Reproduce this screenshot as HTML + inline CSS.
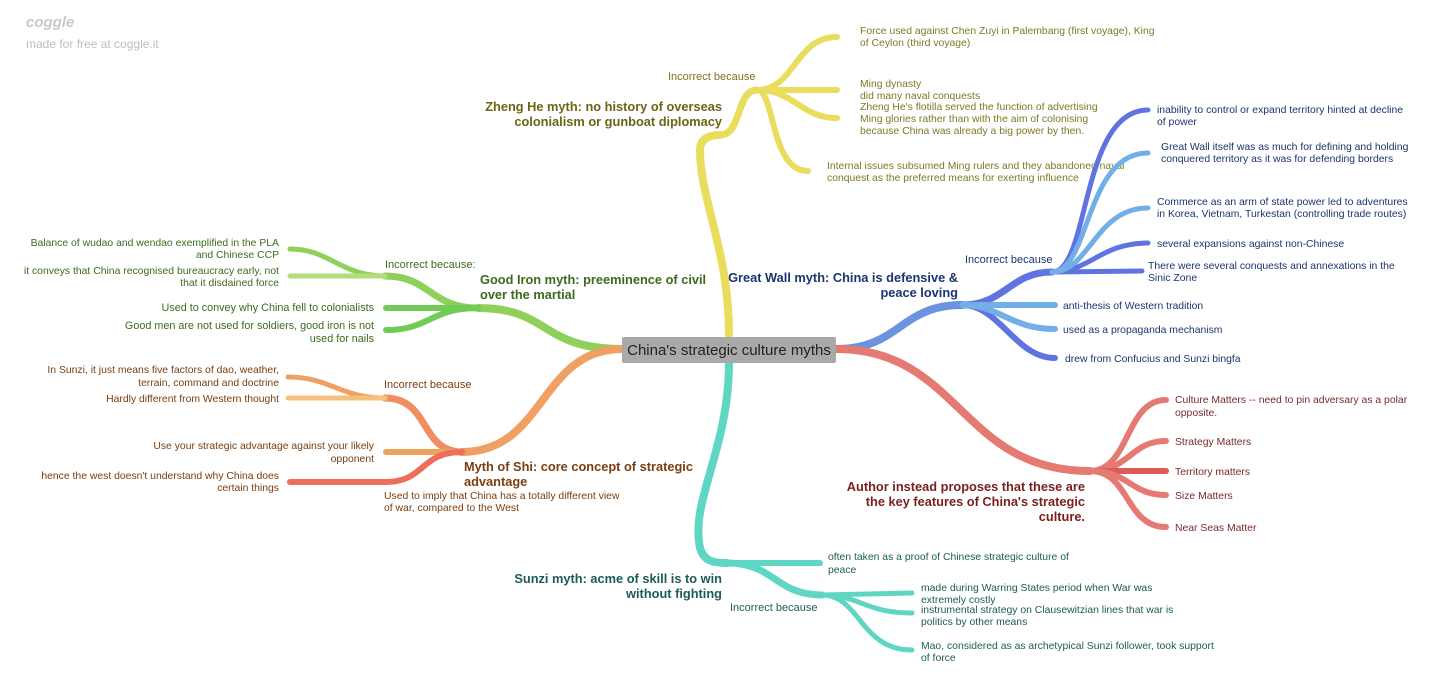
<!DOCTYPE html>
<html><head><meta charset="utf-8"><style>
html,body{margin:0;padding:0;background:#fff;}
svg{display:block;font-family:"Liberation Sans",sans-serif;}
.b{font-weight:bold;font-size:12.8px;}
.s{font-size:10.4px;}
.m{font-size:11px;}
path{fill:none;stroke-linecap:round;}
</style></head><body>
<svg width="1456" height="694" viewBox="0 0 1456 694">
<text x="26" y="27" font-size="15" font-style="italic" font-weight="bold" fill="#c8c8c8">coggle</text>
<text x="26" y="48" font-size="12" fill="#bdbdbd">made for free at coggle.it</text>

<!-- yellow -->
<g stroke="#e8dd5c">
<path stroke-width="8" d="M729,335 C729,250 700,200 700,150 C700,138 710,135 720,135"/>
<path stroke-width="7" d="M720,135 C742,135 736,90 757,90"/>
<path stroke-width="6" d="M757,90 C795,90 795,37 837,37"/>
<path stroke-width="6" d="M757,90 L837,90"/>
<path stroke-width="6" d="M757,90 C795,90 800,118 837,118"/>
<path stroke-width="6" d="M757,90 C775,90 770,171 808,171"/>
</g>
<text class="b" fill="#6b6616" text-anchor="end"><tspan x="722" y="111">Zheng He myth: no history of overseas</tspan><tspan x="722" y="126">colonialism or gunboat diplomacy</tspan></text>
<text class="m" x="668" y="80" fill="#7a7420">Incorrect because</text>
<g class="s" fill="#7d7a25">
<text x="860" y="34">Force used against Chen Zuyi in Palembang (first voyage), King</text>
<text x="860" y="46">of Ceylon (third voyage)</text>
<text x="860" y="87">Ming dynasty</text>
<text x="860" y="99">did many naval conquests</text>
<text x="860" y="110">Zheng He's flotilla served the function of advertising</text>
<text x="860" y="122">Ming glories rather than with the aim of colonising</text>
<text x="860" y="134">because China was already a big power by then.</text>
<text x="827" y="169">Internal issues subsumed Ming rulers and they abandoned naval</text>
<text x="827" y="181">conquest as the preferred means for exerting influence</text>
</g>

<!-- blue -->
<path stroke="#6b93e0" stroke-width="8" d="M836,349 C900,349 900,305 962,305"/>
<g stroke="#5f74e0">
<path stroke-width="7" d="M962,305 C1005,305 1010,272 1052,272"/>
<path stroke-width="6" d="M962,305 C1000,305 1015,358 1055,358"/>
<path stroke-width="5" d="M1052,272 C1090,272 1080,110 1148,110"/>
<path stroke-width="5" d="M1052,272 C1090,272 1100,243 1148,243"/>
<path stroke-width="5" d="M1052,272 L1142,271"/>
</g>
<g stroke="#72aee8">
<path stroke-width="6" d="M962,305 L1055,305"/>
<path stroke-width="6" d="M962,305 C1000,305 1010,329 1055,329"/>
<path stroke-width="5" d="M1052,272 C1090,272 1085,153 1148,153"/>
<path stroke-width="5" d="M1052,272 C1090,272 1095,208 1148,208"/>
</g>
<text class="b" fill="#1c3470" text-anchor="end"><tspan x="958" y="282">Great Wall myth: China is defensive &amp;</tspan><tspan x="958" y="297">peace loving</tspan></text>
<text class="m" x="965" y="263" fill="#1c3470">Incorrect because</text>
<g class="s" fill="#1c3470">
<text x="1157" y="113">inability to control or expand territory hinted at decline</text>
<text x="1157" y="125">of power</text>
<text x="1161" y="150">Great Wall itself was as much for defining and holding</text>
<text x="1161" y="162">conquered territory as it was for defending borders</text>
<text x="1157" y="205">Commerce as an arm of state power led to adventures</text>
<text x="1157" y="217">in Korea, Vietnam, Turkestan (controlling trade routes)</text>
<text x="1157" y="247">several expansions against non-Chinese</text>
<text x="1148" y="269">There were several conquests and annexations in the</text>
<text x="1148" y="281">Sinic Zone</text>
<text x="1063" y="309">anti-thesis of Western tradition</text>
<text x="1063" y="333">used as a propaganda mechanism</text>
<text x="1065" y="362">drew from Confucius and Sunzi bingfa</text>
</g>

<!-- red -->
<g stroke="#e47a72">
<path stroke-width="8" d="M836,349 C960,349 960,471 1090,471"/>
<path stroke-width="6" d="M1090,471 C1130,471 1125,400 1166,400"/>
<path stroke-width="6" d="M1090,471 C1130,471 1130,441 1166,441"/>
<path stroke-width="6" stroke="#e05a58" d="M1090,471 L1166,471"/>
<path stroke-width="6" d="M1090,471 C1130,471 1130,495 1166,495"/>
<path stroke-width="6" d="M1090,471 C1130,471 1125,527 1166,527"/>
</g>
<text class="b" fill="#7a1f1f" text-anchor="end"><tspan x="1085" y="491">Author instead proposes that these are</tspan><tspan x="1085" y="506">the key features of China's strategic</tspan><tspan x="1085" y="521">culture.</tspan></text>
<g class="s" fill="#7a2a2a">
<text x="1175" y="403">Culture Matters -- need to pin adversary as a polar</text>
<text x="1175" y="416">opposite.</text>
<text x="1175" y="445">Strategy Matters</text>
<text x="1175" y="475">Territory matters</text>
<text x="1175" y="499">Size Matters</text>
<text x="1175" y="531">Near Seas Matter</text>
</g>

<!-- teal -->
<g stroke="#5fd6c4">
<path stroke-width="8" d="M729,362 C729,450 690,500 700,548 C704,562 715,563 727,563"/>
<path stroke-width="6" d="M727,563 L820,563"/>
<path stroke-width="7" d="M727,563 C775,563 775,595 822,595"/>
<path stroke-width="5" d="M822,595 L912,593"/>
<path stroke-width="5" d="M822,595 C860,595 865,613 912,613"/>
<path stroke-width="5" d="M822,595 C860,595 860,650 912,650"/>
</g>
<text class="b" fill="#1d5c55" text-anchor="end"><tspan x="722" y="583">Sunzi myth: acme of skill is to win</tspan><tspan x="722" y="598">without fighting</tspan></text>
<text class="m" x="730" y="611" fill="#1d5c55">Incorrect because</text>
<g class="s" fill="#1d5c55">
<text x="828" y="560">often taken as a proof of Chinese strategic culture of</text>
<text x="828" y="573">peace</text>
<text x="921" y="591">made during Warring States period when War was</text>
<text x="921" y="603">extremely costly</text>
<text x="921" y="613">instrumental strategy on Clausewitzian lines that war is</text>
<text x="921" y="625">politics by other means</text>
<text x="921" y="649">Mao, considered as as archetypical Sunzi follower, took support</text>
<text x="921" y="661">of force</text>
</g>

<!-- green -->
<g stroke="#8fd05a">
<path stroke-width="8" d="M622,349 C540,349 550,308 478,308"/>
<path stroke-width="7" d="M478,308 C430,308 430,276 385,276"/>
<path stroke-width="5" d="M385,276 C340,276 330,249 290,249"/>
<path stroke-width="5" stroke="#b4dc7a" d="M385,276 L290,276"/>
<path stroke-width="6" stroke="#6fcc55" d="M478,308 L386,308"/>
<path stroke-width="6" stroke="#6fcc55" d="M478,308 C430,308 430,330 386,330"/>
</g>
<text class="b" fill="#3d6b1e"><tspan x="480" y="284">Good Iron myth: preeminence of civil</tspan><tspan x="480" y="299">over the martial</tspan></text>
<text class="m" x="385" y="268" fill="#3d6b1e">Incorrect because:</text>
<g class="s" fill="#3d6b1e" text-anchor="end">
<text x="279" y="246">Balance of wudao and wendao exemplified in the PLA</text>
<text x="279" y="258">and Chinese CCP</text>
<text x="279" y="274">it conveys that China recognised bureaucracy early, not</text>
<text x="279" y="286">that it disdained force</text>
<text x="374" y="311" font-size="10.8">Used to convey why China fell to colonialists</text>
<text x="374" y="329" font-size="10.8">Good men are not used for soldiers, good iron is not</text>
<text x="374" y="342" font-size="10.8">used for nails</text>
</g>

<!-- orange -->
<g stroke="#f0a062">
<path stroke-width="8" d="M622,349 C540,349 545,452 462,452"/>
<path stroke-width="7" stroke="#f08e62" d="M462,452 C420,452 430,398 385,398"/>
<path stroke-width="5" d="M385,398 C340,398 330,377 288,377"/>
<path stroke-width="5" stroke="#f6c07e" d="M385,398 L288,398"/>
<path stroke-width="6" stroke="#eda25e" d="M462,452 L386,452"/>
<path stroke-width="6" stroke="#ee6e5a" d="M462,452 C420,452 425,482 386,482 L290,482"/>
</g>
<text class="b" fill="#7a3e10"><tspan x="464" y="471">Myth of Shi: core concept of strategic</tspan><tspan x="464" y="486">advantage</tspan></text>
<text class="m" x="384" y="388" fill="#7a3e10">Incorrect because</text>
<g class="s" fill="#7a3e10">
<text x="384" y="499">Used to imply that China has a totally different view</text>
<text x="384" y="511">of war, compared to the West</text>
</g>
<g class="s" fill="#7a3e10" text-anchor="end">
<text x="279" y="373">In Sunzi, it just means five factors of dao, weather,</text>
<text x="279" y="386">terrain, command and doctrine</text>
<text x="279" y="402">Hardly different from Western thought</text>
<text x="374" y="449">Use your strategic advantage against your likely</text>
<text x="374" y="462">opponent</text>
<text x="279" y="479">hence the west doesn't understand why China does</text>
<text x="279" y="491">certain things</text>
</g>

<!-- center -->
<rect x="622" y="337" width="214" height="26" rx="2" fill="#a9a9a9"/>
<text x="729" y="355" font-size="15" fill="#222" text-anchor="middle">China's strategic culture myths</text>
</svg>
</body></html>
